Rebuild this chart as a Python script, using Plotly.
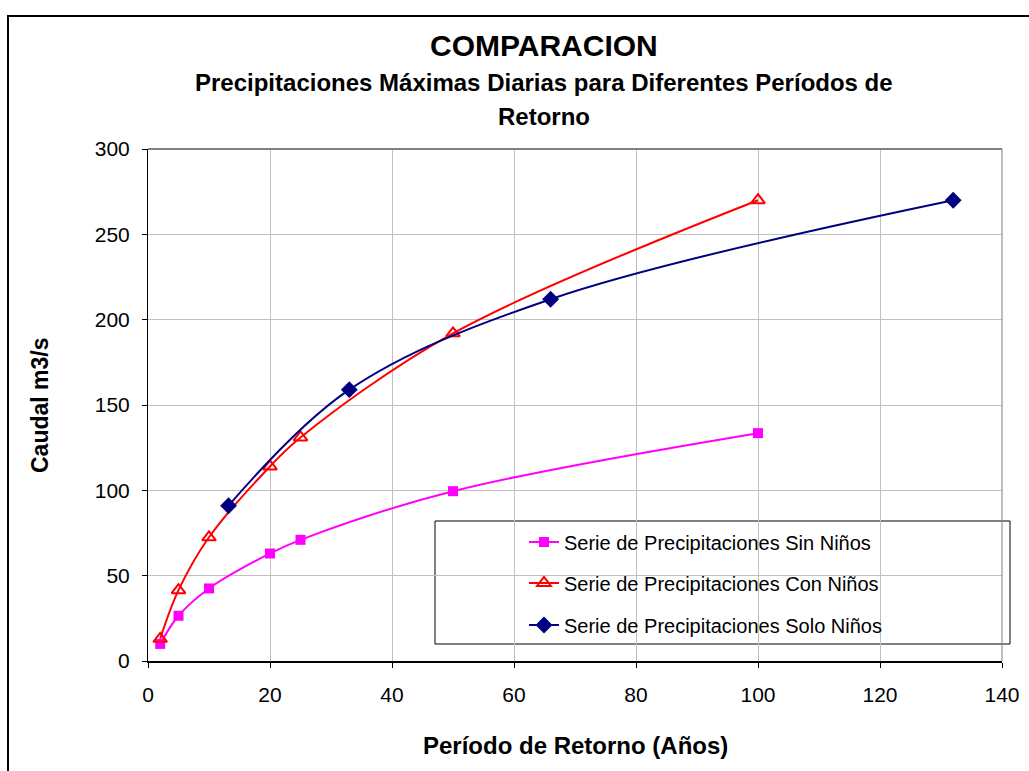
import plotly.graph_objects as go

# Data
periodos = [2, 5, 10, 20, 25, 50, 100]
sin_ninos = [10, 26.5, 42.5, 63, 71, 99.5, 133.5]
con_ninos = [13, 41.5, 72.5, 114, 131, 192, 270]
periodos_solo = [13.2, 33, 66, 132]
solo_ninos = [91, 159, 212, 270]

names = ["Serie de Precipitaciones Sin Niños",
         "Serie de Precipitaciones Con Niños",
         "Serie de Precipitaciones Solo Niños"]

FONT = "Liberation Sans, Arial, sans-serif"

fig = go.Figure()
fig.add_trace(go.Scatter(x=periodos, y=sin_ninos, mode="lines+markers", name=names[0],
                         line=dict(color="#FF00FF", width=2, shape="spline"),
                         marker=dict(symbol="square", size=10, color="#FF00FF"),
                         legend="legend"))
fig.add_trace(go.Scatter(x=periodos, y=con_ninos, mode="lines+markers", name=names[1],
                         line=dict(color="#FF0000", width=2, shape="spline"),
                         marker=dict(symbol="triangle-up-open", size=12, color="#FF0000",
                                     line=dict(width=2, color="#FF0000")),
                         legend="legend2"))
fig.add_trace(go.Scatter(x=periodos_solo, y=solo_ninos, mode="lines+markers", name=names[2],
                         line=dict(color="#000080", width=2, shape="spline"),
                         marker=dict(symbol="diamond", size=13, color="#000080"),
                         legend="legend3"))

L, R, T, B = 148, 27, 149, 110
W, H = 1029, 771
pw, ph = W - L - R, H - T - B

def px(xp):
    return (xp - L) / pw

def py(yp):
    return (H - B - yp) / ph

legfont = dict(family=FONT, size=20, color="black")
def leg(ycen):
    return dict(x=px(524), y=py(ycen), xanchor="left", yanchor="middle",
                bgcolor="rgba(0,0,0,0)", borderwidth=0, font=legfont)

fig.update_layout(
    width=W, height=H,
    margin=dict(l=L, r=R, t=T, b=B, pad=0, autoexpand=False),
    paper_bgcolor="white", plot_bgcolor="white",
    font=dict(family=FONT, size=21, color="black"),
    showlegend=True,
    legend=leg(542), legend2=leg(583), legend3=leg(625),
)

fig.update_xaxes(range=[0, 140], dtick=20, tick0=0, showgrid=True, gridcolor="#C0C0C0", gridwidth=1,
                 showline=True, linecolor="black", linewidth=2, ticks="outside", ticklen=5,
                 tickcolor="black", zeroline=False, tickfont=dict(size=21, family=FONT),
                 ticklabelstandoff=9, automargin=False)
fig.update_yaxes(range=[0, 300], dtick=50, tick0=0, showgrid=True, gridcolor="#C0C0C0", gridwidth=1,
                 showline=True, linecolor="black", linewidth=1, ticks="outside", ticklen=5,
                 tickcolor="black", zeroline=False, tickfont=dict(size=21, family=FONT),
                 ticklabelstandoff=8, automargin=False)

shapes = [
    # plot area top and right borders
    dict(type="line", xref="paper", yref="paper", x0=0, x1=1, y0=1, y1=1,
         line=dict(color="#808080", width=2)),
    dict(type="line", xref="paper", yref="paper", x0=1, x1=1, y0=0, y1=1,
         line=dict(color="#808080", width=1)),
    # legend box
    dict(type="rect", xref="paper", yref="paper", x0=px(435), x1=px(1010), y0=py(644), y1=py(521),
         line=dict(color="black", width=1), fillcolor="white", layer="below"),
    # outer chart frame
    dict(type="rect", xref="paper", yref="paper", x0=px(8), x1=px(1045), y0=py(785), y1=py(16),
         line=dict(color="black", width=2)),
]
fig.update_layout(shapes=shapes)

annotations = [
    dict(text="<b>COMPARACION</b>", x=px(544), y=py(45), xref="paper", yref="paper",
         showarrow=False, xanchor="center", yanchor="middle", font=dict(size=30, family=FONT)),
    dict(text="<b>Precipitaciones Máximas Diarias para Diferentes Períodos de</b>", x=px(544), y=py(82),
         xref="paper", yref="paper", showarrow=False, xanchor="center", yanchor="middle",
         font=dict(size=24, family=FONT)),
    dict(text="<b>Retorno</b>", x=px(544), y=py(116), xref="paper", yref="paper",
         showarrow=False, xanchor="center", yanchor="middle", font=dict(size=24, family=FONT)),
    dict(text="<b>Caudal m3/s</b>", x=px(40), y=py(405), xref="paper", yref="paper",
         showarrow=False, xanchor="center", yanchor="middle", textangle=-90,
         font=dict(size=23, family=FONT)),
    dict(text="<b>Período de Retorno (Años)</b>", x=px(575), y=py(745), xref="paper", yref="paper",
         showarrow=False, xanchor="center", yanchor="middle", font=dict(size=24, family=FONT)),
]
fig.update_layout(annotations=annotations)

fig.write_html("out.html")
